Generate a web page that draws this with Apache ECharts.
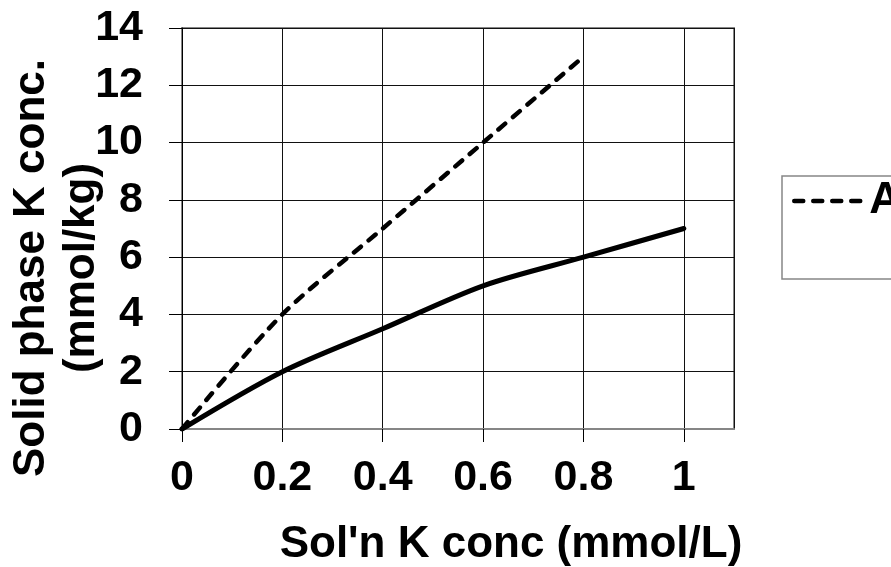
<!DOCTYPE html>
<html>
<head>
<meta charset="utf-8">
<title>Solid phase K vs Sol'n K</title>
<script src="https://cdn.jsdelivr.net/npm/echarts@6/dist/echarts.min.js"></script>
<style>
  html, body { margin: 0; padding: 0; background: #fff; }
  #chart { width: 891px; height: 567px; }
</style>
</head>
<body>
<div id="chart"></div>
<script>
// values
const xValues = [0, 0.2, 0.4, 0.6, 0.8, 1]
const seriesA = [0, 4, 7, 10, 13]
const seriesB = [0, 2, 3.5, 5, 6, 7]
const legendNames = ['A']

const font = '"Liberation Sans", Arial, sans-serif'
const dash = [9, 10]

const chart = echarts.init(document.getElementById('chart'))

const option = {
  animation: false,
  backgroundColor: '#fff',
  grid: {
    left: 182,
    top: 28,
    right: 157,
    bottom: 138,
    show: true,
    borderColor: '#868686',
    borderWidth: 2
  },
  legend: {
    data: legendNames,
    left: 782,
    top: 176,
    orient: 'vertical',
    padding: [3, 200, 56, 10],
    borderColor: '#868686',
    borderWidth: 1.5,
    itemWidth: 70,
    itemHeight: 14,
    itemGap: 4,
    itemStyle: { opacity: 0 },
    lineStyle: { color: '#000', width: 4.5, type: dash, cap: 'round' },
    textStyle: {
      fontFamily: font,
      fontWeight: 'bold',
      fontSize: 44,
      lineHeight: 44,
      color: '#000'
    }
  },
  xAxis: {
    type: 'value',
    min: 0,
    max: 1.1,
    interval: 0.2,
    axisLine: { show: true, lineStyle: { color: '#868686', width: 2 } },
    axisTick: { show: true, length: 13, lineStyle: { color: '#000', width: 1 } },
    splitLine: { show: true, lineStyle: { color: '#111', width: 1 } },
    axisLabel: {
      margin: 28,
      fontFamily: font,
      fontWeight: 'bold',
      fontSize: 43,
      color: '#000',
      showMaxLabel: false,
      formatter: v => (v > 1.05 ? '' : String(Math.round(v * 10) / 10))
    }
  },
  yAxis: {
    type: 'value',
    min: 0,
    max: 14,
    interval: 2,
    axisLine: { show: true, lineStyle: { color: '#000', width: 1 } },
    axisTick: { show: true, length: 13, lineStyle: { color: '#000', width: 1 } },
    splitLine: { show: true, lineStyle: { color: '#111', width: 1 } },
    axisLabel: {
      margin: 39,
      fontFamily: font,
      fontWeight: 'bold',
      fontSize: 43,
      color: '#000'
    }
  },
  graphic: [
    {
      type: 'text',
      x: 57,
      y: 268,
      rotation: Math.PI / 2,
      style: {
        text: 'Solid phase K conc.\n(mmol/kg)',
        fontFamily: font,
        fontWeight: 'bold',
        fontSize: 44,
        lineHeight: 50,
        fill: '#000',
        textAlign: 'center',
        textVerticalAlign: 'middle'
      }
    },
    {
      type: 'text',
      x: 511,
      y: 545,
      style: {
        text: "Sol'n K conc (mmol/L)",
        fontFamily: font,
        fontWeight: 'bold',
        fontSize: 44,
        fill: '#000',
        textAlign: 'center',
        textVerticalAlign: 'middle'
      }
    }
  ],
  series: [
    {
      name: 'A',
      type: 'line',
      smooth: 0.3,
      symbol: 'none',
      data: seriesA.map((v, i) => [xValues[i], v]),
      lineStyle: { color: '#000', width: 4.5, type: dash, cap: 'round' },
      itemStyle: { color: '#000' }
    },
    {
      name: 'B',
      type: 'line',
      smooth: 0.3,
      symbol: 'none',
      data: seriesB.map((v, i) => [xValues[i], v]),
      lineStyle: { color: '#000', width: 5, cap: 'round' },
      itemStyle: { color: '#000' }
    }
  ]
}

chart.setOption(option)
</script>
</body>
</html>
